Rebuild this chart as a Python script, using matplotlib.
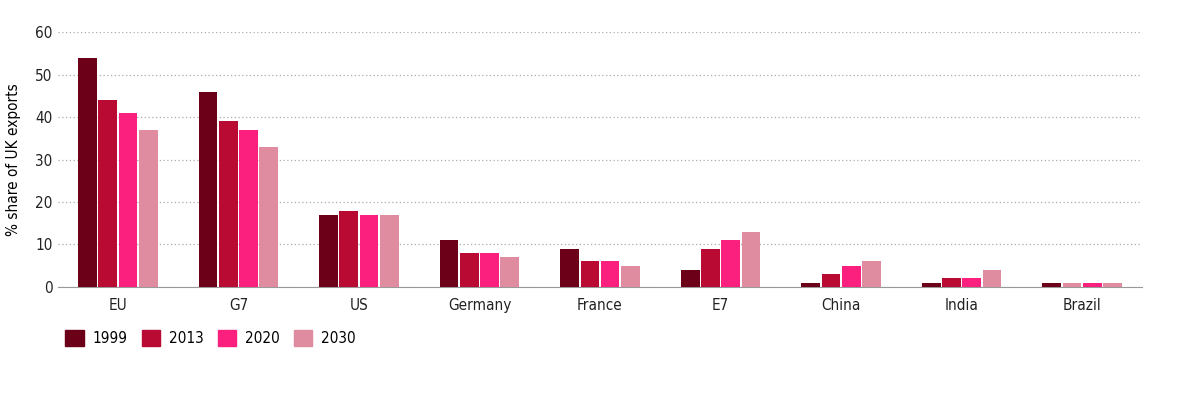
import numpy as np
import matplotlib.pyplot as plt
from matplotlib.patches import Patch

plt.rcParams['font.family'] = ['DejaVu Sans']
plt.rcParams['font.stretch'] = 'condensed'

regions = ["EU", "G7", "US", "Germany", "France", "E7", "China", "India", "Brazil"]
years = ["1999", "2013", "2020", "2030"]
v1999 = [54, 46, 17, 11, 9, 4, 1, 1, 1]
v2013 = [44, 39, 18, 8, 6, 9, 3, 2, 1]
v2020 = [41, 37, 17, 8, 6, 11, 5, 2, 1]
v2030 = [37, 33, 17, 7, 5, 13, 6, 4, 1]
colours = ["#6d0019", "#b80a32", "#fb1f7e", "#e08ca0"]

fig = plt.figure(figsize=(12, 4.07), dpi=100)
ax = fig.add_axes([0.048, 0.295, 0.904, 0.626])

x = np.arange(len(regions))
step = 0.168
width = 0.155
for i, vals in enumerate([v1999, v2013, v2020, v2030]):
    cols = [colours[i]] * len(regions)
    if i == 1:
        cols[-1] = colours[3]  # Brazil 2013 bar is drawn light pink in the original
    ax.bar(x + (i - 1.5) * step, vals, width, color=cols, zorder=3)

ax.set_xlim(-0.5, len(regions) - 0.5)
ax.set_ylim(0, 60)
ax.set_yticks(range(0, 61, 10))
ax.set_xticks(x)
ax.set_xticklabels(regions)
ax.tick_params(length=0, labelsize=11, colors="#222222")
ax.tick_params(axis="x", pad=8)
ax.yaxis.grid(True, linestyle=(0, (1, 2)), color="#aaaaaa", linewidth=0.9)
for s in ["top", "right", "left"]:
    ax.spines[s].set_visible(False)
ax.spines["bottom"].set_color("#999999")
ax.set_ylabel("% share of UK exports", fontsize=11, labelpad=10)

handles = [Patch(color=c, label=y) for c, y in zip(colours, years)]
fig.legend(handles=handles, loc="lower left", bbox_to_anchor=(0.043, 0.115), ncol=4,
           frameon=False, fontsize=11, handlelength=1.2, handleheight=1.2,
           columnspacing=0.9, handletextpad=0.6)

fig.savefig("out.png")
